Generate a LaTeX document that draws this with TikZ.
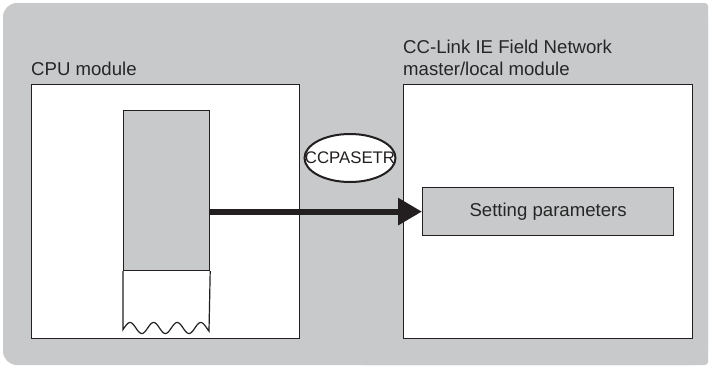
\documentclass[tikz,border=0pt]{standalone}
\usepackage{fontspec}
\setmainfont{Liberation Sans}
\usetikzlibrary{arrows.meta,shapes.geometric}
\definecolor{bggrey}{HTML}{C8C9CB}
\definecolor{linedark}{HTML}{231F20}
\definecolor{txtdark}{HTML}{262626}
\tikzset{
  modbox/.style={draw=linedark, line width=1.4pt, fill=white},
  greybox/.style={draw=linedark, line width=1.2pt, fill=bggrey},
  lbl/.style={font=\fontsize{18.6}{22}\selectfont, text=txtdark, inner sep=0pt, anchor=base west},
  insname/.style={ellipse, draw=linedark, line width=2pt, fill=white, minimum width=91pt, minimum height=48pt, inner sep=0pt, font=\fontsize{16.8}{20}\selectfont, text=linedark},
  bigarrow/.style={draw=linedark, line width=6pt, -{Triangle[length=24pt,width=26pt]}}
}
\begin{document}
\begin{tikzpicture}[x=1pt,y=-1pt]
\useasboundingbox (0,0) rectangle (710,367);
% background
\fill[bggrey, rounded corners=14pt] (3,3) rectangle (708,365);
\fill[bggrey, rounded corners=3pt] (360,3) rectangle (708,365);
% module boxes
\node[modbox, minimum width=268pt, minimum height=254pt, inner sep=0pt, anchor=north west] (cpu) at (31,84) {};
\node[modbox, minimum width=289pt, minimum height=254pt, inner sep=0pt, anchor=north west] (ccl) at (403,84) {};
% labels
\node[lbl] (cpulab) at (31,75) {CPU module};
\node[lbl] (ccllab1) at (403,53) {CC-Link IE Field Network};
\node[lbl] (ccllab2) at (403,75) {master/local module};
% device memory stack
\node[greybox, minimum width=86pt, minimum height=160pt, inner sep=0pt, anchor=north west] (stack) at (123,110) {};
\coordinate (wl) at (123,329.5);
\draw[linedark, line width=1.2pt] (stack.south west) -- (wl)
  -- plot[domain=123:209, samples=120, smooth] (\x, {328 - 5.5*cos(15.254*(\x-130))})
  -- (stack.south east);
% setting parameters box
\node[greybox, minimum width=251pt, minimum height=48pt, inner sep=0pt, anchor=north west,
      font=\fontsize{18.6}{22}\selectfont, text=txtdark] (params) at (422,187) {Setting parameters};
% arrow
\draw[bigarrow] (stack.east |- params.west) -- (params.west);
% instruction name
\node[insname] (instr) at (350,158) {\makebox[0pt]{CCPASETR}};
\end{tikzpicture}
\end{document}
